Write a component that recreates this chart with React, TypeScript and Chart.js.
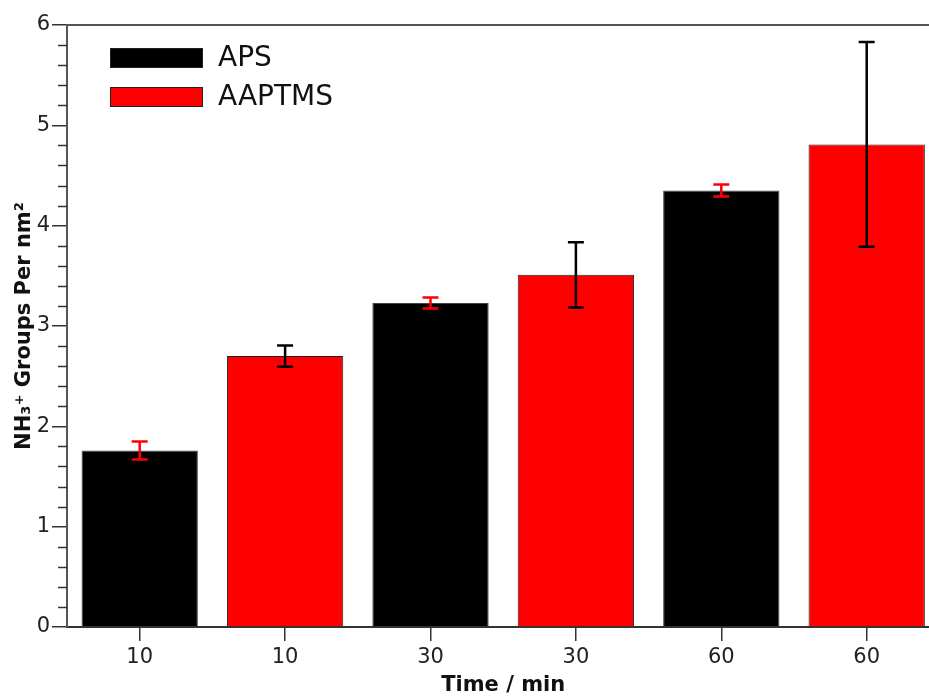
import React, { useEffect, useRef } from "react";
import { Chart, registerables } from "chart.js";

Chart.register(...registerables);

const categories = ["10", "10", "30", "30", "60", "60"];
const apsValues = [1.76, null, 3.23, null, 4.35, null];
const aaptmsValues = [null, 2.7, null, 3.51, null, 4.81];
const apsErrors = [0.09, null, 0.055, null, 0.06, null];
const aaptmsErrors = [null, 0.105, null, 0.325, null, 1.02];
const yMin = 0;
const yMax = 6;
const yMajorStep = 1;
const yMinorStep = 0.2;
const seriesNames = ["APS", "AAPTMS"];
const seriesColors = ["#000000", "#ff0000"];
const errorColors = ["#ff0000", "#000000"];
const yTitle = "NH\u2083\u207A Groups Per nm\u00B2";
const xTitle = "Time / min";

const FONT = "'DejaVu Sans', Verdana, sans-serif";

const errorBarPlugin = {
  id: "errorBars",
  afterDatasetsDraw(chart: any) {
    const ctx = chart.ctx;
    const yScale = chart.scales.y;
    const errs = [apsErrors, aaptmsErrors];
    chart.data.datasets.forEach((ds: any, i: number) => {
      const meta = chart.getDatasetMeta(i);
      meta.data.forEach((el: any, j: number) => {
        const v = ds.data[j];
        const e = errs[i][j];
        if (v == null || e == null) return;
        const x = el.x;
        const yTop = yScale.getPixelForValue(v + e);
        const yBot = yScale.getPixelForValue(v - e);
        ctx.save();
        ctx.strokeStyle = errorColors[i];
        ctx.lineWidth = 2.5;
        ctx.beginPath();
        ctx.moveTo(x, yTop);
        ctx.lineTo(x, yBot);
        ctx.moveTo(x - 8, yTop);
        ctx.lineTo(x + 8, yTop);
        ctx.moveTo(x - 8, yBot);
        ctx.lineTo(x + 8, yBot);
        ctx.stroke();
        ctx.restore();
      });
    });
  },
};

const decorPlugin = {
  id: "decor",
  afterDraw(chart: any) {
    const ctx = chart.ctx;
    const area = chart.chartArea;
    const yScale = chart.scales.y;
    ctx.save();
    // minor ticks
    ctx.strokeStyle = "#333333";
    ctx.lineWidth = 1.5;
    const n = Math.round((yMax - yMin) / yMinorStep);
    for (let k = 0; k <= n; k++) {
      const v = yMin + k * yMinorStep;
      if (Math.abs(v - Math.round(v / yMajorStep) * yMajorStep) < 1e-6) continue;
      const y = Math.round(yScale.getPixelForValue(v)) + 0.5;
      ctx.beginPath();
      ctx.moveTo(area.left - 9, y);
      ctx.lineTo(area.left, y);
      ctx.stroke();
    }
    // top border
    ctx.strokeStyle = "#555555";
    ctx.lineWidth = 2;
    ctx.beginPath();
    ctx.moveTo(area.left, area.top);
    ctx.lineTo(area.right, area.top);
    ctx.stroke();

    // legend
    const lx = area.left + 43;
    const rows = [area.top + 23, area.top + 62];
    ctx.font = `28px ${FONT}`;
    ctx.textBaseline = "middle";
    ctx.textAlign = "left";
    rows.forEach((ry, i) => {
      ctx.fillStyle = seriesColors[i];
      ctx.fillRect(lx, ry, 93, 20);
      ctx.strokeStyle = "#222222";
      ctx.lineWidth = 1;
      ctx.strokeRect(lx + 0.5, ry + 0.5, 92, 19);
      ctx.fillStyle = "#111111";
      ctx.fillText(seriesNames[i], lx + 108, ry + 11);
    });
    ctx.restore();
  },
};

export default function App() {
  const ref = useRef<HTMLCanvasElement | null>(null);
  useEffect(() => {
    if (!ref.current) return;
    const chart = new Chart(ref.current, {
      type: "bar",
      data: {
        labels: categories,
        datasets: [
          {
            label: seriesNames[0],
            data: apsValues as any,
            backgroundColor: seriesColors[0],
            borderColor: "#444444",
            borderWidth: 1,
            skipNull: true,
          } as any,
          {
            label: seriesNames[1],
            data: aaptmsValues as any,
            backgroundColor: seriesColors[1],
            borderColor: "#222222",
            borderWidth: 1,
            skipNull: true,
          } as any,
        ],
      },
      options: {
        responsive: false,
        animation: false,
        devicePixelRatio: 1,
        layout: { padding: { left: 0, top: 25, right: 10.6, bottom: 0 } },
        datasets: { bar: { categoryPercentage: 0.8, barPercentage: 1.0 } },
        plugins: {
          legend: { display: false },
          tooltip: { enabled: false },
        },
        scales: {
          x: {
            offset: true,
            grid: {
              offset: false,
              drawOnChartArea: false,
              drawTicks: true,
              tickLength: 14,
              color: "#333333",
              lineWidth: 1.5,
            },
            border: { color: "#333333", width: 2 },
            ticks: {
              color: "#222222",
              font: { family: FONT, size: 21 },
              padding: 4,
              maxRotation: 0,
            },
            title: {
              display: true,
              text: xTitle,
              color: "#111111",
              font: { family: FONT, size: 21, weight: "bold" },
              padding: { top: 0, bottom: 0 },
            },
            afterFit: (scale: any) => {
              scale.height = 71;
            },
          },
          y: {
            min: yMin,
            max: yMax,
            ticks: {
              stepSize: yMajorStep,
              color: "#222222",
              font: { family: FONT, size: 21 },
              padding: 2,
            },
            grid: {
              drawOnChartArea: false,
              drawTicks: true,
              tickLength: 15,
              color: "#333333",
              lineWidth: 1.5,
            },
            border: { color: "#555555", width: 2 },
            title: {
              display: true,
              text: yTitle,
              color: "#111111",
              font: { family: FONT, size: 21, weight: "bold" },
              padding: { top: 12, bottom: 0 },
            },
            afterFit: (scale: any) => {
              scale.width = 67;
            },
          },
        },
      } as any,
      plugins: [errorBarPlugin, decorPlugin],
    });
    return () => chart.destroy();
  }, []);

  return (
    <div
      style={{
        position: "fixed",
        left: 0,
        top: 0,
        width: 929,
        height: 698,
        overflow: "hidden",
        background: "#ffffff",
      }}
    >
      <canvas ref={ref} width={950} height={698} style={{ display: "block" }} />
    </div>
  );
}
